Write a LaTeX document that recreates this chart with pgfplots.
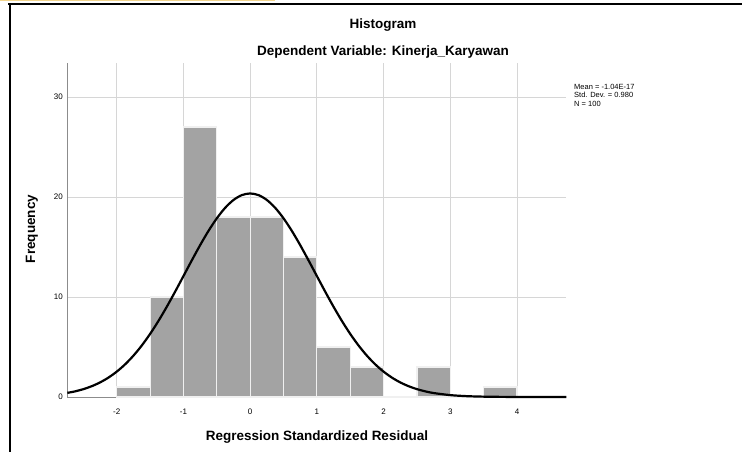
\documentclass[border=0pt]{standalone}
\usepackage{pgfplots}
\pgfplotsset{compat=1.18}
\usepackage{fontspec}
\setmainfont{Liberation Sans}
\definecolor{bargray}{HTML}{A3A3A3}
\definecolor{gridgray}{HTML}{D6D6D6}
\definecolor{axisgray}{HTML}{8C8C8C}
\definecolor{topyellow}{HTML}{F2D48C}
\begin{document}
\begin{tikzpicture}[x=1pt,y=1pt]
\useasboundingbox (0,0) rectangle (742,-452);
% frame
\draw[topyellow, line width=1.5pt] (0,-0.75) -- (275,-0.75);
\draw[black, line width=1.6pt] (8,-4) -- (742,-4);
\draw[black, line width=2pt] (10,-4) -- (10,-452);
% titles
\node[font=\bfseries\fontsize{13.5}{15}\selectfont] at (383,-25) {Histogram};
\node[font=\bfseries\fontsize{13.5}{15}\selectfont] at (383,-52) {Dependent Variable: Kinerja\_Karyawan};
\node[font=\bfseries\fontsize{13.5}{15}\selectfont, rotate=90] at (32,-229) {Frequency};
\node[font=\bfseries\fontsize{13.5}{15}\selectfont] at (317,-437) {Regression Standardized Residual};
\begin{axis}[
  at={(101,-397)}, anchor=south west,
  scale only axis, width=499pt, height=334pt,
  xmin=-2.74, xmax=4.74, ymin=0, ymax=33.4,
  xtick={-2,-1,0,1,2,3,4}, ytick={0,10,20,30},
  grid=major, major grid style={gridgray, line width=1pt},
  axis x line*=bottom, axis y line*=left,
  axis line style={axisgray, line width=0.8pt, -},
  major tick length=0pt,
  tick label style={font=\fontsize{8}{9}\selectfont},
  /pgf/number format/assume math mode=true,
  xticklabel style={yshift=-8pt},
  yticklabel style={xshift=-1pt},
  clip=false,
]
\addplot[ybar interval, fill=bargray, draw=white!88!gray, line width=1.2pt] coordinates {
(-2.0,1) (-1.5,10) (-1.0,27) (-0.5,18) (0.0,18) (0.5,14) (1.0,5) (1.5,3) (2.0,0) (2.5,3) (3.0,0) (3.5,1) (4.0,1)
};
\addplot[black, line width=2.2pt, smooth, no marks] coordinates {
(-2.74,0.416) (-2.625,0.563) (-2.5,0.786) (-2.375,1.080) (-2.25,1.459) (-2.125,1.939) (-2.0,2.537)
(-1.875,3.264) (-1.75,4.133) (-1.625,5.148) (-1.5,6.309) (-1.375,7.606) (-1.25,9.023) (-1.125,10.532)
(-1.0,12.094) (-0.875,13.662) (-0.75,15.187) (-0.625,16.608) (-0.5,17.870) (-0.375,18.917) (-0.25,19.702)
(-0.125,20.189) (0.0,20.354) (0.125,20.189) (0.25,19.702) (0.375,18.917) (0.5,17.870) (0.625,16.608)
(0.75,15.187) (0.875,13.662) (1.0,12.094) (1.125,10.532) (1.25,9.023) (1.375,7.606) (1.5,6.309)
(1.625,5.148) (1.75,4.133) (1.875,3.264) (2.0,2.537) (2.125,1.939) (2.25,1.459) (2.375,1.080)
(2.5,0.786) (2.625,0.563) (2.75,0.397) (3.0,0.188) (3.25,0.083) (3.5,0.035) (3.75,0.014)
(4.0,0.005) (4.25,0.002) (4.5,0.001) (4.74,0.0)
};
\end{axis}
\node[anchor=north west, align=left, font=\fontsize{7.5}{8.4}\selectfont, inner sep=0pt] at (574,-84)
 {Mean = -1.04E-17\\Std. Dev. = 0.980\\N = 100};
\end{tikzpicture}
\end{document}
